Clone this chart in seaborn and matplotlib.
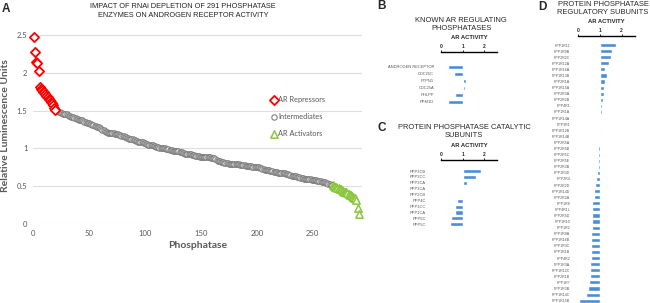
import numpy as np
import pandas as pd
import matplotlib
matplotlib.use("Agg")
import matplotlib.pyplot as plt
import seaborn as sns

# ---------------- panel A : ranked screen of 291 phosphatases ----------------
repressors = [2.47, 2.28, 2.14, 2.13, 2.02, 1.81, 1.79, 1.77, 1.75, 1.74,
              1.72, 1.70, 1.68, 1.66, 1.64, 1.62, 1.60, 1.57, 1.53, 1.51]

intermediates = [
    1.50, 1.49, 1.48, 1.48, 1.47, 1.47, 1.46, 1.46, 1.45, 1.45,
    1.44, 1.43, 1.43, 1.42, 1.41, 1.41, 1.40, 1.40, 1.39, 1.39,
    1.38, 1.38, 1.37, 1.37, 1.36, 1.35, 1.35, 1.34, 1.33, 1.33,
    1.32, 1.32, 1.31, 1.31, 1.30, 1.30, 1.29, 1.29, 1.28, 1.27,
    1.26, 1.25, 1.24, 1.23, 1.22, 1.22, 1.21, 1.21, 1.21, 1.20,
    1.20, 1.20, 1.19, 1.19, 1.19, 1.19, 1.18, 1.18, 1.17, 1.17,
    1.16, 1.15, 1.15, 1.14, 1.14, 1.13, 1.13, 1.12, 1.12, 1.11,
    1.11, 1.10, 1.10, 1.09, 1.09, 1.08, 1.08, 1.08, 1.07, 1.07,
    1.06, 1.06, 1.05, 1.05, 1.04, 1.04, 1.04, 1.03, 1.03, 1.02,
    1.02, 1.02, 1.01, 1.01, 1.01, 1.00, 1.00, 1.00, 0.99, 0.99,
    0.99, 0.98, 0.98, 0.98, 0.97, 0.97, 0.97, 0.96, 0.96, 0.96,
    0.95, 0.95, 0.95, 0.94, 0.94, 0.93, 0.93, 0.93, 0.92, 0.92,
    0.92, 0.91, 0.91, 0.91, 0.90, 0.90, 0.90, 0.90, 0.89, 0.89,
    0.89, 0.89, 0.89, 0.88, 0.88, 0.88, 0.88, 0.88, 0.87, 0.87,
    0.87, 0.87, 0.86, 0.85, 0.84, 0.83, 0.83, 0.82, 0.82, 0.82,
    0.81, 0.81, 0.81, 0.81, 0.80, 0.80, 0.80, 0.80, 0.80, 0.79,
    0.79, 0.79, 0.79, 0.79, 0.78, 0.78, 0.78, 0.78, 0.78, 0.77,
    0.77, 0.77, 0.77, 0.77, 0.77, 0.76, 0.76, 0.76, 0.76, 0.75,
    0.75, 0.75, 0.74, 0.74, 0.73, 0.73, 0.72, 0.72, 0.71, 0.71,
    0.71, 0.70, 0.70, 0.70, 0.69, 0.69, 0.69, 0.69, 0.68, 0.68,
    0.68, 0.68, 0.67, 0.67, 0.67, 0.66, 0.66, 0.66, 0.65, 0.65,
    0.64, 0.64, 0.63, 0.63, 0.63, 0.62, 0.62, 0.62, 0.61, 0.61,
    0.61, 0.60, 0.60, 0.60, 0.59, 0.59, 0.59, 0.59, 0.58, 0.58,
    0.58, 0.58, 0.58, 0.57, 0.57, 0.57, 0.57, 0.56, 0.56, 0.55,
    0.55, 0.54, 0.54, 0.53, 0.53, 0.52, 0.52]

activators = [0.51, 0.50, 0.49, 0.49, 0.48, 0.47, 0.46, 0.46, 0.45, 0.44,
              0.43, 0.43, 0.42, 0.41, 0.40, 0.39, 0.38, 0.37, 0.36, 0.35,
              0.34, 0.32, 0.21, 0.13]

# ---------------- panel B : known AR regulating phosphatases ----------------
known_names = ["ANDROGEN RECEPTOR", "CDC25C", "PTPN1", "CDC25A", "PHLPP", "PPM1D"]
known_activity = [0.31, 0.62, 1.14, 1.12, 0.65, 0.30]

# ---------------- panel C : catalytic subunits ----------------
catalytic_names = ["PPP3CB", "PPP3CC", "PPP2CA", "PPP3CA", "PPP2CB",
                   "PPP4C", "PPP1CC", "PPP1CA", "PPP6C", "PPP5C"]
catalytic_activity = [1.85, 1.63, 1.19, 1.06, 0.97, 0.72, 0.66, 0.63, 0.45, 0.42]

# ---------------- panel D : regulatory subunits ----------------
regulatory_names = [
    "PPP1R11", "PPP1R9B", "PPP2R2C", "PPP1R12A", "PPP1R16A", "PPP1R13B",
    "PPP2R1A", "PPP1R15A", "PPP2R3A", "PPP2R2B", "PPP4R1", "PPP1R1A",
    "PPP1R14A", "PPP3R1", "PPP1R12B", "PPP1R14B", "PPP2R5A", "PPP2R5B",
    "PPP2R5C", "PPP2R5E", "PPP2R3B", "PPP1R3D", "PPP2R4", "PPP2R2D",
    "PPP1R14D", "PPP2R2A", "PPP1R8", "PPP4R1L", "PPP2R5D", "PPP1R10",
    "PPP1R2", "PPP1R9A", "PPP1R16B", "PPP1R3C", "PPP1R1B", "PPP4R2",
    "PPP1R3A", "PPP1R12C", "PPP2R1B", "PPP1R7", "PPP1R3B", "PPP1R14C",
    "PPP1R15B"]
regulatory_activity = [
    1.72, 1.54, 1.51, 1.43, 1.25, 1.34, 1.21, 1.20, 1.17, 1.12, 1.09,
    1.08, 1.06, 1.02, 1.03, 1.03, 0.94, 0.91, 0.91, 0.89, 0.89, 0.86,
    0.80, 0.77, 0.74, 0.74, 0.65, 0.65, 0.65, 0.65, 0.65, 0.60, 0.57,
    0.57, 0.57, 0.57, 0.54, 0.52, 0.52, 0.48, 0.46, 0.36, 0.05]

GRAY_TXT = "#595959"
BAR_BLUE = "#4a8fd6"

sns.set_theme(style="white")
plt.rcParams['font.family'] = ['Liberation Sans', 'DejaVu Sans']

W, H = 650, 303
fig = plt.figure(figsize=(W / 100, H / 100), dpi=100)


def px_axes(left, top, right, bottom):
    # axes placed with pixel coordinates measured from the top-left corner
    return fig.add_axes([left / W, 1 - bottom / H, (right - left) / W, (bottom - top) / H])


def px_text(x, y, s, **kw):
    fig.text(x / W, 1 - y / H, s, **kw)


# ---------------- panel A ----------------
values = repressors + intermediates + activators
groups = (["AR Repressors"] * len(repressors) + ["Intermediates"] * len(intermediates)
          + ["AR Activators"] * len(activators))
df_a = pd.DataFrame({"rank": np.arange(1, len(values) + 1), "rlu": values, "group": groups})

axA = px_axes(33, 27.5, 362, 224)
sns.scatterplot(data=df_a[df_a.group == "Intermediates"], x="rank", y="rlu", marker="o", s=15,
                color="white", edgecolor="#7f7f7f", linewidth=0.8, ax=axA,
                label="Intermediates", clip_on=False, zorder=3)
sns.scatterplot(data=df_a[df_a.group == "AR Activators"], x="rank", y="rlu", marker="^", s=28,
                color="white", edgecolor="#8cc63f", linewidth=1.1, ax=axA,
                label="AR Activators", clip_on=False, zorder=4)
sns.scatterplot(data=df_a[df_a.group == "AR Repressors"], x="rank", y="rlu", marker="D", s=22,
                color="white", edgecolor="#ff0000", linewidth=1.3, ax=axA,
                label="AR Repressors", clip_on=False, zorder=5)

axA.set_xlim(0, 294)
axA.set_ylim(0, 2.6)
axA.set_xticks(range(0, 251, 50))
axA.set_yticks([0, 0.5, 1, 1.5, 2, 2.5])
axA.yaxis.set_major_formatter(matplotlib.ticker.StrMethodFormatter("{x:g}"))
axA.grid(axis="y", color="#dedede", linewidth=0.8)
axA.set_axisbelow(True)
for s in axA.spines.values():
    s.set_visible(False)
axA.tick_params(length=0, labelsize=5.5, labelcolor=GRAY_TXT, pad=4)
for lab in axA.get_xticklabels() + axA.get_yticklabels():
    lab.set_family(["Lato", "DejaVu Sans"])
axA.set_xlabel("Phosphatase", fontsize=7.5, fontweight="bold", color=GRAY_TXT,
               family=["Lato", "DejaVu Sans"], labelpad=3)
axA.set_ylabel("Relative Luminescence Units", fontsize=7.5, fontweight="bold", color=GRAY_TXT,
               family=["Lato", "DejaVu Sans"], labelpad=5)

handles, labels = axA.get_legend_handles_labels()
order = [labels.index(n) for n in ["AR Repressors", "Intermediates", "AR Activators"]]
leg = axA.legend([handles[i] for i in order], [labels[i] for i in order],
                 loc="upper left", bbox_to_anchor=(0.70, 0.685), frameon=False,
                 handletextpad=0.1, handlelength=1.0, labelspacing=1.35,
                 prop={"family": ["Lato", "DejaVu Sans"], "size": 5.3})
for t in leg.get_texts():
    t.set_color(GRAY_TXT)

px_text(183, 11, "IMPACT OF RNAi DEPLETION OF 291 PHOSPHATASE\nENZYMES ON ANDROGEN RECEPTOR ACTIVITY",
        ha="center", va="center", fontsize=5.3, color="#222222", linespacing=1.25)
px_text(2, 9, "A", fontsize=8.5, fontweight="bold", ha="left", va="center")


# ---------------- panels B, C, D ----------------
def activity_panel(ax, names, acts, label_size, pad, first_gap):
    sns.barplot(x=acts, y=names, orient="h", color=BAR_BLUE, saturation=1,
                width=0.68, ax=ax)
    # bars diverge from the neutral activity of 1
    for patch, v in zip(ax.patches, acts):
        patch.set_x(min(v, 1.0))
        patch.set_width(abs(v - 1.0))
    ax.set_xlim(0, 2.6)
    ax.set_ylim(len(names) - 0.5, -first_gap)
    ax.xaxis.tick_top()
    ax.xaxis.set_label_position("top")
    ax.set_xticks([0, 1, 2])
    for name, s in ax.spines.items():
        s.set_visible(name == "top")
    ax.spines["top"].set_color("black")
    ax.spines["top"].set_linewidth(1.0)
    ax.tick_params(axis="x", length=1.5, width=0.6, pad=0.5, labelsize=3.6, color="black")
    ax.tick_params(axis="y", length=0, pad=pad, labelsize=label_size, labelcolor=GRAY_TXT)
    for lab in ax.get_xticklabels():
        lab.set_fontweight("bold")
    ax.set_xlabel("AR ACTIVITY", fontsize=4.2, fontweight="bold", labelpad=3.5)
    ax.set_ylabel("")


axB = px_axes(441, 52, 497.4, 105.5)
activity_panel(axB, known_names, known_activity, 2.9, 5, 2.14)
px_text(461, 24.5, "KNOWN AR REGULATING\nPHOSPHATASES", ha="center", va="center",
        fontsize=5.4, linespacing=1.2)
px_text(377, 6, "B", fontsize=8.5, fontweight="bold", ha="left", va="center")

axC = px_axes(441, 160, 497.4, 227.3)
activity_panel(axC, catalytic_names, catalytic_activity, 2.9, 11, 1.86)
px_text(464, 132, "PROTEIN PHOSPHATASE CATALYTIC\nSUBUNITS", ha="center", va="center",
        fontsize=5.4, linespacing=1.2)
px_text(377, 128, "C", fontsize=8.5, fontweight="bold", ha="left", va="center")

axD = px_axes(578.3, 36, 634.7, 303.7)
activity_panel(axD, regulatory_names, regulatory_activity, 2.6, 6, 1.48)
px_text(603, 9, "PROTEIN PHOSPHATASE\nREGULATORY SUBUNITS", ha="center", va="center",
        fontsize=5.4, linespacing=1.2)
px_text(538, 7, "D", fontsize=8.5, fontweight="bold", ha="left", va="center")

fig.savefig("out.png", dpi=100)
